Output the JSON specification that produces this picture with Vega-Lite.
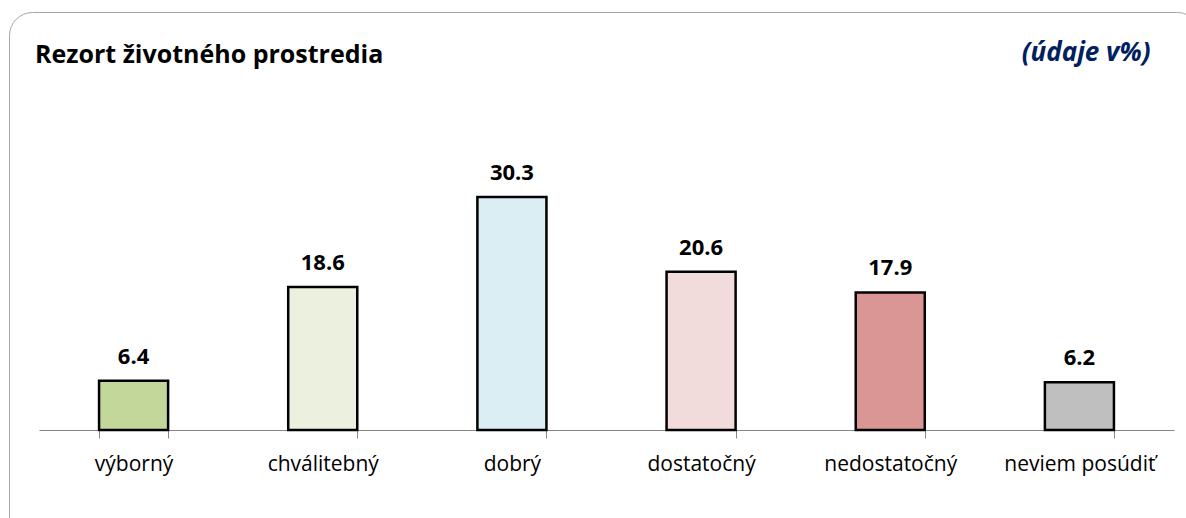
{
  "$schema": "https://vega.github.io/schema/vega-lite/v6.json",
  "width": 1191,
  "height": 540,
  "autosize": {"type": "none"},
  "padding": {"left": 9, "top": 12, "right": 0, "bottom": 0},
  "background": "white",
  "config": {
    "view": {"stroke": "#a6a6a6", "strokeWidth": 1, "cornerRadius": 23},
    "font": "Open Sans"
  },
  "title": {
    "text": "Rezort životného prostredia",
    "anchor": "start",
    "frame": "group",
    "orient": "top",
    "font": "Open Sans",
    "fontSize": 25,
    "fontWeight": "bold",
    "color": "black",
    "baseline": "alphabetic",
    "offset": 0,
    "dx": 26,
    "dy": 76
  },
  "data": {
    "values": [
      {"kategoria": "výborný", "hodnota": 6.4},
      {"kategoria": "chválitebný", "hodnota": 18.6},
      {"kategoria": "dobrý", "hodnota": 30.3},
      {"kategoria": "dostatočný", "hodnota": 20.6},
      {"kategoria": "nedostatočný", "hodnota": 17.9},
      {"kategoria": "neviem posúdiť", "hodnota": 6.2}
    ]
  },
  "layer": [
    {
      "mark": {"type": "bar", "stroke": "black", "strokeWidth": 2.5},
      "encoding": {
        "x": {
          "field": "kategoria",
          "type": "nominal",
          "sort": null,
          "scale": {"range": [30, 1165], "paddingInner": 0.635, "paddingOuter": 0.3175},
          "axis": {
            "orient": "bottom",
            "offset": -122,
            "title": null,
            "labelAngle": 0,
            "domainColor": "#868686",
            "domainWidth": 1,
            "tickColor": "#868686",
            "tickSize": 8,
            "tickBand": "extent",
            "labelFont": "Open Sans",
            "labelFontSize": 21,
            "labelColor": "black",
            "labelBaseline": "alphabetic",
            "labelPadding": 32
          }
        },
        "y": {
          "field": "hodnota",
          "type": "quantitative",
          "scale": {"domain": [0, 35], "range": [418, 149]},
          "axis": {
            "orient": "right",
            "domain": false,
            "ticks": false,
            "labels": false,
            "grid": false,
            "title": "(údaje v%)",
            "titleAngle": 0,
            "titleAlign": "right",
            "titleBaseline": "alphabetic",
            "titleX": -50,
            "titleY": 48,
            "titleFont": "Open Sans",
            "titleFontSize": 26,
            "titleFontStyle": "italic",
            "titleFontWeight": "bold",
            "titleColor": "#002060"
          }
        },
        "fill": {
          "field": "kategoria",
          "type": "nominal",
          "sort": null,
          "scale": {
            "domain": ["výborný", "chválitebný", "dobrý", "dostatočný", "nedostatočný", "neviem posúdiť"],
            "range": ["#c4d79b", "#ebf1de", "#daeef3", "#f2dcdb", "#da9694", "#bfbfbf"]
          },
          "legend": null
        }
      }
    },
    {
      "mark": {"type": "text", "font": "Open Sans", "fontWeight": "bold", "fontSize": 22, "baseline": "alphabetic", "dy": -17, "color": "black"},
      "encoding": {
        "x": {"field": "kategoria", "type": "nominal", "sort": null},
        "y": {"field": "hodnota", "type": "quantitative"},
        "text": {"field": "hodnota", "type": "quantitative", "format": ".1f"}
      }
    }
  ]
}
